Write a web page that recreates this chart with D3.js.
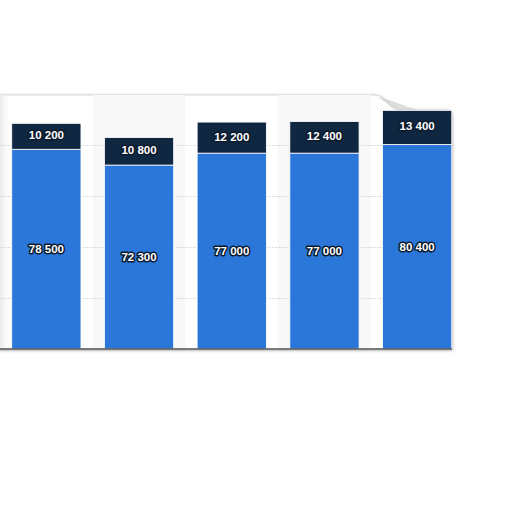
<!DOCTYPE html>
<html><head><meta charset="utf-8">
<script src="https://cdn.jsdelivr.net/npm/d3@7/dist/d3.min.js"></script>
<style>html,body{margin:0;padding:0;background:#fff;overflow:hidden}</style>
</head><body>
<svg id="c" width="512" height="512"></svg>
<script>
const categories = ["1", "2", "3", "4", "5"];
const baseValues = [78500, 72300, 77000, 77000, 80400];
const topValues = [10200, 10800, 12200, 12400, 13400];
const gridTicks = [20000, 40000, 60000, 80000];

(function () {
const svg = d3.select("#c");
const pL = -10, pR = 452, pT = 95, pB = 349;

const y = d3.scaleLinear().domain([0, 100000]).range([pB, 94.6]);
const x = d3.scaleBand().domain(categories).range([0, 463.5]).paddingInner(0.2533).paddingOuter(0.12665);

const defs = svg.append("defs");
const f = defs.append("filter").attr("id", "sh").attr("x", "-10%").attr("y", "-10%").attr("width", "120%").attr("height", "120%");
f.append("feDropShadow").attr("dx", 0).attr("dy", 1).attr("stdDeviation", 1.6).attr("flood-color", "#000").attr("flood-opacity", 0.35);
const clip = defs.append("clipPath").attr("id", "pc");
const panelPath = `M${pL},${pT} L376,${pT} C386,${pT} 388,110 400,110 L448,110 Q452,110 452,114 L452,${pB} L${pL},${pB} Z`;
clip.append("path").attr("d", panelPath);
const lg = defs.append("linearGradient").attr("id", "lg").attr("x1", 0).attr("x2", 1);
lg.append("stop").attr("offset", 0).attr("stop-color", "#eaeaea");
lg.append("stop").attr("offset", 1).attr("stop-color", "#fff").attr("stop-opacity", 0);

svg.append("path").attr("d", panelPath).attr("fill", "#fff").attr("stroke", "#d4d4d4").attr("stroke-width", 1).attr("filter", "url(#sh)");
svg.append("path").attr("d", `M366,${pT} C384,${pT} 386,108 402,110 L420,110 C400,106 392,98 366,${pT} Z`).attr("fill", "#cfcfcf").attr("opacity", 0.7);

const g = svg.append("g").attr("clip-path", "url(#pc)");
g.append("rect").attr("x", 0).attr("y", pT).attr("width", 12).attr("height", pB - pT).attr("fill", "url(#lg)");
const gap = x.step() - x.bandwidth();
g.selectAll(".band").data(categories.filter((d, i) => i % 2 === 1)).join("rect")
  .attr("x", d => x(d) - gap / 2).attr("y", pT).attr("width", x.step()).attr("height", pB - pT)
  .attr("fill", "#f8f8f8");
g.selectAll(".grid").data(gridTicks).join("line")
  .attr("x1", pL).attr("x2", pR).attr("y1", d => Math.round(y(d)) + 0.5).attr("y2", d => Math.round(y(d)) + 0.5)
  .attr("stroke", "#d0d0d0").attr("stroke-width", 1).attr("stroke-dasharray", "1.5,1.5");

const data = categories.map((c, i) => ({c, a: baseValues[i], b: topValues[i]}));
g.selectAll(".base").data(data).join("rect")
  .attr("x", d => x(d.c)).attr("width", x.bandwidth())
  .attr("y", d => y(d.a)).attr("height", d => y(0) - y(d.a))
  .attr("fill", "#2b76d9").attr("stroke", "#fff").attr("stroke-width", 0.8);
g.selectAll(".topb").data(data).join("rect")
  .attr("x", d => x(d.c)).attr("width", x.bandwidth())
  .attr("y", d => y(d.a + d.b)).attr("height", d => y(d.a) - y(d.a + d.b))
  .attr("fill", "#0f2741").attr("stroke", "#fff").attr("stroke-width", 0.8);

svg.append("line").attr("x1", pL).attr("x2", pR).attr("y1", pB).attr("y2", pB)
  .attr("stroke", "#555").attr("stroke-width", 1.4);

const fmt = v => d3.format(",")(v).replace(/,/g, " ");
const lbl = (sel) => sel.attr("text-anchor", "middle").attr("dominant-baseline", "central")
  .attr("font-family", "'Liberation Sans Narrow', 'Liberation Sans', Arial, sans-serif")
  .attr("font-weight", "bold").attr("font-size", 11.5).attr("fill", "#fff")
  .attr("stroke", "#0b1a2c").attr("stroke-width", 3).attr("stroke-linejoin", "round").attr("paint-order", "stroke");
svg.selectAll(".la").data(data).join("text")
  .attr("x", d => x(d.c) + x.bandwidth() / 2).attr("y", d => (y(d.a) + y(0)) / 2)
  .text(d => fmt(d.a)).call(lbl);
svg.selectAll(".lb").data(data).join("text")
  .attr("x", d => x(d.c) + x.bandwidth() / 2).attr("y", d => (y(d.a) + y(d.a + d.b)) / 2 - 1)
  .text(d => fmt(d.b)).call(lbl);
})();
</script>
</body></html>
